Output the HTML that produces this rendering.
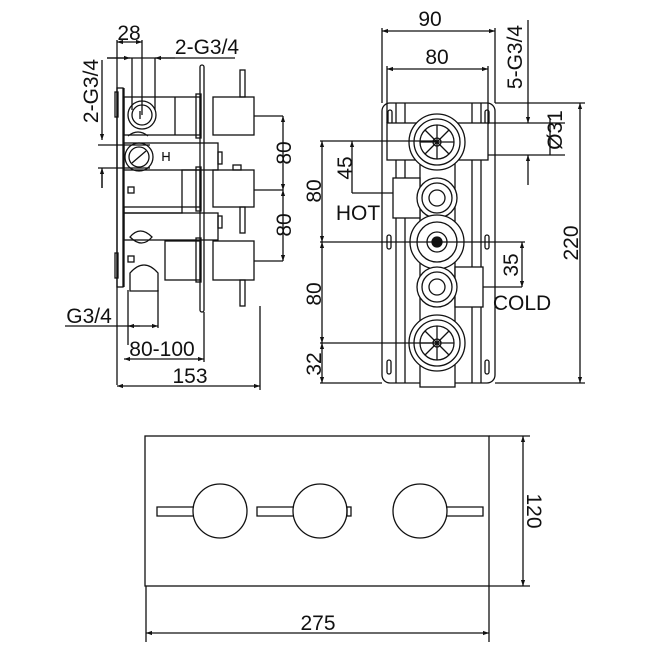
<!DOCTYPE html>
<html><head><meta charset="utf-8"><style>
html,body{margin:0;padding:0;background:#fff}
svg{display:block}
text{font-family:"Liberation Sans",sans-serif;font-size:21px;fill:#111;text-anchor:middle}
</style></head><body>
<svg width="650" height="650" viewBox="0 0 650 650" xmlns="http://www.w3.org/2000/svg">
<defs>
<marker id="a" viewBox="0 0 10 10" refX="10" refY="5" markerWidth="9" markerHeight="6" orient="auto-start-reverse" markerUnits="userSpaceOnUse"><path d="M0,1.5 L10,5 L0,8.5z" fill="#111"/></marker>
</defs>
<g fill="none" stroke="#111" stroke-width="1.3">
<rect x="117" y="88" width="6" height="199"/>
<line x1="124" y1="88" x2="124" y2="287"/>
<rect x="200" y="65" width="4" height="247" rx="2"/>
<rect x="124" y="97" width="76" height="38"/>
<line x1="175" y1="97" x2="175" y2="135"/>
<rect x="213" y="97" width="41" height="38"/>
<rect x="196" y="94" width="5" height="44"/>
<rect x="240" y="70" width="5" height="27"/>
<line x1="254" y1="116" x2="283" y2="116"/>
<rect x="124" y="143" width="94" height="27"/>
<rect x="218" y="152" width="4" height="12"/>
<rect x="182" y="170" width="18" height="37"/>
<rect x="213" y="170" width="41" height="37"/>
<rect x="196" y="167" width="5" height="44"/>
<rect x="233" y="165" width="8" height="5"/>
<rect x="240" y="207" width="5" height="26"/>
<line x1="254" y1="190" x2="283" y2="190"/>
<rect x="124" y="207" width="58" height="6"/>
<rect x="128" y="187" width="6" height="6"/>
<rect x="124" y="213" width="94" height="27"/>
<rect x="218" y="216" width="4" height="12"/>
<rect x="165" y="241" width="35" height="39"/>
<rect x="213" y="241" width="41" height="39"/>
<rect x="196" y="238" width="5" height="44"/>
<rect x="240" y="280" width="5" height="26"/>
<line x1="254" y1="261" x2="283" y2="261"/>
<rect x="128" y="256" width="6" height="6"/>
<path d="M130,237 q10,-12 22,0 q-10,12 -22,0z"/>
<path d="M130,273 q14,-16 28,0 v18 h-28z"/>
<path d="M128,136 q10,-8 20,0"/>
<rect x="115" y="92" width="3" height="25"/>
<rect x="115" y="253" width="3" height="25"/>
<circle cx="142" cy="115" r="14"/><circle cx="142" cy="115" r="10"/>
<line x1="140" y1="111" x2="140" y2="119"/>
<circle cx="139" cy="157" r="14"/><circle cx="139" cy="157" r="10"/>
<line x1="132" y1="163" x2="146" y2="151"/>
<path d="M163,152 v9 M169,152 v9 M163,156.5 h6"/>
<line x1="117" y1="40" x2="117" y2="385"/>
<line x1="142" y1="40" x2="142" y2="115"/>
<line x1="117" y1="42" x2="142" y2="42" marker-start="url(#a)" marker-end="url(#a)"/>
<line x1="107" y1="58" x2="235" y2="58"/>
<line x1="107" y1="58" x2="130" y2="58" marker-end="url(#a)"/>
<line x1="175" y1="58" x2="155" y2="58" marker-end="url(#a)"/>
<line x1="132" y1="58" x2="132" y2="110"/><line x1="155" y1="58" x2="155" y2="110"/>
<line x1="102" y1="60" x2="102" y2="140" marker-end="url(#a)"/>
<line x1="102" y1="170" x2="102" y2="188"/>
<line x1="102" y1="188" x2="102" y2="168" marker-end="url(#a)"/>
<line x1="98" y1="145" x2="150" y2="145"/><line x1="98" y1="168" x2="150" y2="168"/>
<line x1="283" y1="116" x2="283" y2="190" marker-start="url(#a)" marker-end="url(#a)"/>
<line x1="283" y1="190" x2="283" y2="261" marker-start="url(#a)" marker-end="url(#a)"/>
<line x1="128" y1="290" x2="128" y2="345"/><line x1="158" y1="290" x2="158" y2="328"/>
<line x1="65" y1="326" x2="140" y2="326"/>
<line x1="128" y1="326" x2="158" y2="326" marker-start="url(#a)" marker-end="url(#a)"/>
<line x1="204" y1="312" x2="204" y2="362"/>
<line x1="124" y1="359" x2="204" y2="359" marker-start="url(#a)" marker-end="url(#a)"/>
<line x1="260" y1="306" x2="260" y2="390"/>
<line x1="117" y1="386" x2="260" y2="386" marker-start="url(#a)" marker-end="url(#a)"/>
<rect x="382" y="103" width="113" height="280" rx="8"/>
<line x1="396" y1="103" x2="396" y2="383"/><line x1="405" y1="103" x2="405" y2="383"/>
<line x1="472" y1="103" x2="472" y2="383"/><line x1="481" y1="103" x2="481" y2="383"/>
<rect x="388" y="110" width="4" height="14" rx="2"/><rect x="485" y="110" width="4" height="14" rx="2"/>
<rect x="387" y="235" width="4" height="14" rx="2"/><rect x="485" y="235" width="4" height="14" rx="2"/>
<rect x="387" y="360" width="4" height="14" rx="2"/><rect x="485" y="360" width="4" height="14" rx="2"/>
<rect x="387" y="123" width="101" height="37" fill="#fff"/>
<rect x="420" y="160" width="35" height="227" fill="#fff"/>
<rect x="393" y="178" width="27" height="40" fill="#fff"/>
<rect x="455" y="267" width="28" height="40" fill="#fff"/>
<g fill="#fff">
<circle cx="437" cy="142" r="28"/><circle cx="437" cy="142" r="23"/><circle cx="437" cy="142" r="17"/>
<circle cx="437" cy="198" r="20"/><circle cx="437" cy="198" r="15"/><circle cx="437" cy="198" r="8"/>
<circle cx="437" cy="242" r="27"/><circle cx="437" cy="242" r="20"/><circle cx="437" cy="242" r="10"/>
<circle cx="437" cy="287" r="20"/><circle cx="437" cy="287" r="15"/><circle cx="437" cy="287" r="8"/>
<circle cx="437" cy="343" r="28"/><circle cx="437" cy="343" r="23"/><circle cx="437" cy="343" r="17"/>
</g>
<circle cx="437" cy="242" r="5" fill="#111"/>
<path d="M437,125 v34 M420,142 h34 M425,130 l24,24 M449,130 l-24,24"/>
<path d="M437,326 v34 M420,343 h34 M425,331 l24,24 M449,331 l-24,24"/>
<circle cx="437" cy="142" r="4"/><circle cx="437" cy="343" r="4"/>
<line x1="382" y1="28" x2="382" y2="103"/><line x1="495" y1="28" x2="495" y2="103"/>
<line x1="382" y1="31" x2="495" y2="31" marker-start="url(#a)" marker-end="url(#a)"/>
<line x1="387" y1="66" x2="387" y2="123"/><line x1="488" y1="66" x2="488" y2="123"/>
<line x1="387" y1="69" x2="488" y2="69" marker-start="url(#a)" marker-end="url(#a)"/>
<line x1="495" y1="103" x2="585" y2="103"/><line x1="495" y1="383" x2="585" y2="383"/>
<line x1="580" y1="103" x2="580" y2="383" marker-start="url(#a)" marker-end="url(#a)"/>
<line x1="488" y1="123" x2="565" y2="123"/><line x1="488" y1="155" x2="565" y2="155"/>
<line x1="528" y1="20" x2="528" y2="123" marker-end="url(#a)"/>
<line x1="528" y1="185" x2="528" y2="155" marker-end="url(#a)"/>
<line x1="550" y1="118" x2="550" y2="155"/>
<line x1="320" y1="141" x2="437" y2="141"/>
<line x1="322" y1="141" x2="322" y2="242" marker-start="url(#a)" marker-end="url(#a)"/>
<line x1="322" y1="242" x2="322" y2="343" marker-start="url(#a)" marker-end="url(#a)"/>
<line x1="322" y1="343" x2="322" y2="383" marker-start="url(#a)" marker-end="url(#a)"/>
<line x1="352" y1="141" x2="352" y2="193" marker-start="url(#a)"/>
<path d="M352,193 h41"/>
<line x1="320" y1="242" x2="525" y2="242"/>
<line x1="320" y1="343" x2="437" y2="343"/>
<line x1="320" y1="383" x2="382" y2="383"/>
<line x1="522" y1="242" x2="522" y2="287" marker-start="url(#a)" marker-end="url(#a)"/>
<path d="M483,287 h39"/>
<rect x="145" y="436" width="344" height="150"/>
<line x1="489" y1="436" x2="530" y2="436"/><line x1="489" y1="586" x2="530" y2="586"/>
<line x1="523" y1="436" x2="523" y2="586" marker-start="url(#a)" marker-end="url(#a)"/>
<line x1="146" y1="586" x2="146" y2="642"/><line x1="489" y1="586" x2="489" y2="642"/>
<line x1="146" y1="633" x2="489" y2="633" marker-start="url(#a)" marker-end="url(#a)"/>
<circle cx="220" cy="511" r="27"/><circle cx="320" cy="511" r="27"/><circle cx="420" cy="511" r="27"/>
<path d="M194,507 h-37 v9 h37"/><path d="M294,507 h-37 v9 h37"/><path d="M446,507 h37 v9 h-37"/>
<rect x="347" y="507" width="4" height="9"/>
</g>
<text x="129" y="40">28</text>
<text x="207" y="54">2-G3/4</text>
<text transform="translate(98,91) rotate(-90)">2-G3/4</text>
<text transform="translate(291,153) rotate(-90)">80</text>
<text transform="translate(291,225) rotate(-90)">80</text>
<text x="89" y="323">G3/4</text>
<text x="162" y="356">80-100</text>
<text x="190" y="383">153</text>
<text x="430" y="26">90</text>
<text x="437" y="64">80</text>
<text transform="translate(522,57) rotate(-90)">5-G3/4</text>
<text transform="translate(562,130) rotate(-90)">Ø31</text>
<text transform="translate(578,243) rotate(-90)">220</text>
<text transform="translate(518,265) rotate(-90)">35</text>
<text transform="translate(321,191) rotate(-90)">80</text>
<text transform="translate(352,168) rotate(-90)">45</text>
<text transform="translate(321,294) rotate(-90)">80</text>
<text transform="translate(321,364) rotate(-90)">32</text>
<text x="358" y="220">HOT</text>
<text x="522" y="310">COLD</text>
<text transform="translate(527,511) rotate(90)">120</text>
<text x="318" y="630">275</text>
</svg>
</body></html>
